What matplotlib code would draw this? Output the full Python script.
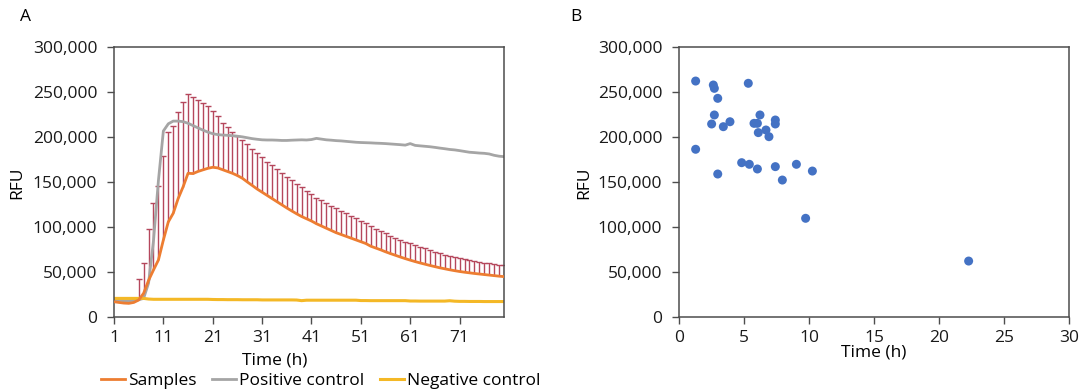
import matplotlib.pyplot as plt
import numpy as np

plt.rcParams['font.family'] = ['Open Sans', 'DejaVu Sans']

# ---- panel A data (hourly readings, t = 1..80) ----
hours = list(range(1, 81))

samples = [17300, 16500, 15800, 15500, 16500, 19200, 26700, 41000, 52600, 63700,
           85900, 106000, 115600, 132000, 145000, 160000, 159700, 162000, 163800, 165500,
           166700, 166000, 164000, 162000, 160000, 157500, 154500, 150400, 146500, 142500,
           139000, 135500, 132000, 128500, 125000, 121500, 118200, 115000, 112000, 109500,
           107000, 104000, 101500, 99000, 96500, 94000, 92000, 90000, 88000, 86000,
           84000, 82000, 79000, 77000, 75000, 72800, 70800, 68900, 67000, 65200,
           63500, 61900, 60400, 59000, 57600, 56300, 55000, 53900, 52800, 51800,
           50900, 50100, 49400, 48700, 48100, 47500, 46900, 46300, 45700, 45200]

# standard deviation of samples (only shown from t = 6 onward)
samples_sd = [0, 0, 0, 0, 0, 23000, 34000, 57500, 74400, 82600,
              93300, 99500, 97300, 96400, 94600, 88100, 84700, 79100, 74300, 68900,
              62900, 57700, 52200, 49100, 45900, 43900, 42500, 41800, 40500, 39700,
              38800, 37500, 36900, 36000, 35700, 34700, 34000, 32800, 32500, 31200,
              29700, 28900, 28800, 28000, 27500, 27100, 26500, 25600, 24900, 24000,
              23400, 22400, 22400, 21500, 20900, 20500, 19900, 19600, 18900, 18900,
              18700, 18500, 18100, 17700, 17200, 16600, 16100, 15700, 15700, 15200,
              15000, 14700, 14300, 13900, 13400, 13200, 13100, 13000, 12800, 12600]

positive = [19000, 18800, 18500, 18500, 18800, 19500, 21000, 38000, 85000, 152000,
            207000, 215000, 218000, 218000, 217400, 215600, 213000, 210500, 208000, 205800,
            204000, 203000, 202500, 202200, 201800, 201200, 200500, 199500, 198500, 197800,
            197200, 197000, 197000, 196800, 196500, 196500, 196800, 197000, 197200, 197000,
            197500, 198800, 198000, 197200, 196800, 196300, 196000, 195500, 195000, 194500,
            194200, 194000, 193800, 193500, 193300, 193000, 192600, 192200, 191800, 191300,
            193000, 191000, 190500, 190000, 189500, 188800, 188000, 187300, 186500, 186000,
            185200, 184300, 183400, 183000, 182500, 182200, 181500, 180000, 179000, 178500]

negative = [21000, 21000, 21000, 21000, 21000, 21000, 21000, 20300, 20000, 20000,
            20000, 20000, 20000, 20000, 20000, 20000, 20000, 20000, 20000, 20000,
            19800, 19700, 19700, 19600, 19600, 19600, 19500, 19500, 19500, 19500,
            19300, 19300, 19300, 19300, 19300, 19300, 19300, 19200, 18500, 19000,
            19000, 19000, 19000, 19000, 19000, 19000, 19000, 19000, 19000, 19000,
            18600, 18600, 18500, 18500, 18500, 18500, 18500, 18500, 18500, 18500,
            18100, 18100, 18000, 18000, 18000, 18000, 18000, 18000, 18400, 17900,
            17700, 17700, 17600, 17600, 17600, 17500, 17500, 17500, 17500, 17500]

# ---- panel B data (time to peak vs peak RFU) ----
peak_time = [1.28, 2.64, 2.72, 2.98, 5.33, 2.72, 2.51, 3.41, 3.92, 6.23,
             5.77, 6.03, 6.10, 6.69, 6.92, 7.41, 7.41, 1.28, 4.82, 5.41,
             6.03, 2.98, 7.41, 7.95, 9.03, 10.26, 9.74, 22.28]
peak_rfu = [262500, 258100, 254400, 243300, 260000, 224800, 214800, 211800, 217300, 224800,
            215500, 215500, 205200, 208100, 200700, 219200, 214800, 186700, 171800, 170000,
            164800, 159200, 167400, 152500, 170000, 162500, 110000, 62500]

fig = plt.figure(figsize=(10.82, 3.9), dpi=100)
axA = fig.add_axes([114 / 1082, 1 - 317.3 / 390, 390 / 1082, 270 / 390])
axB = fig.add_axes([679 / 1082, 1 - 317.3 / 390, 390 / 1082, 270 / 390])

spine_col = '#4d4d4d'
fs = 12.5

# panel A
t = np.array(hours)
s = np.array(samples)
sd = np.array(samples_sd)
show = sd > 0
err_col = '#b5475c'
# upper error bars only
axA.vlines(t[show], s[show], s[show] + sd[show], color=err_col, lw=1.0, zorder=1)
axA.plot(t[show], s[show] + sd[show], ls='none', marker='_', ms=4.5, mew=1.0,
         color=err_col, zorder=1)
axA.plot(t, s, color='#ed7d31', lw=2.0, label='Samples', zorder=3)
axA.plot(t, positive, color='#a5a5a5', lw=2.0, label='Positive control', zorder=2)
axA.plot(t, negative, color='#f4b826', lw=2.2, label='Negative control', zorder=2)

axA.set_xlim(1, 80)
axA.set_ylim(0, 300000)
axA.set_xticks(range(1, 80, 10))
axA.set_xlabel('Time (h)', fontsize=fs)
axA.xaxis.set_label_coords(0.413, -0.13)
axA.set_ylabel('RFU', fontsize=fs)
axA.yaxis.set_label_coords(-0.227, 0.5)

leg = axA.legend(loc='upper center', bbox_to_anchor=(0.53, -0.205), ncol=3, frameon=False,
                 fontsize=fs, handlelength=1.4, handletextpad=0.15, columnspacing=0.9,
                 borderpad=0, borderaxespad=0)

# panel B
axB.scatter(peak_time, peak_rfu, s=42, color='#4472c4', edgecolors='none', zorder=3)
axB.set_xlim(0, 30)
axB.set_ylim(0, 300000)
axB.set_xticks(range(0, 31, 5))
axB.set_xlabel('Time (h)', fontsize=fs)
axB.xaxis.set_label_coords(0.5, -0.1)
axB.set_ylabel('RFU', fontsize=fs)
axB.yaxis.set_label_coords(-0.223, 0.5)

for ax in (axA, axB):
    ax.set_yticks(range(0, 300001, 50000))
    ax.yaxis.set_major_formatter(plt.FuncFormatter(lambda v, p: f'{int(v):,}'))
    ax.tick_params(labelsize=fs, length=5, width=1, color=spine_col, labelcolor='#1a1a1a', pad=4)
    ax.tick_params(axis='y', pad=7)
    for sp in ax.spines.values():
        sp.set_color(spine_col)
        sp.set_linewidth(1.1)

fig.text(20 / 1082, 1 - 17 / 390, 'A', fontsize=fs, va='center', ha='left')
fig.text(570 / 1082, 1 - 17 / 390, 'B', fontsize=fs, va='center', ha='left')

fig.savefig('out.png', dpi=100)
